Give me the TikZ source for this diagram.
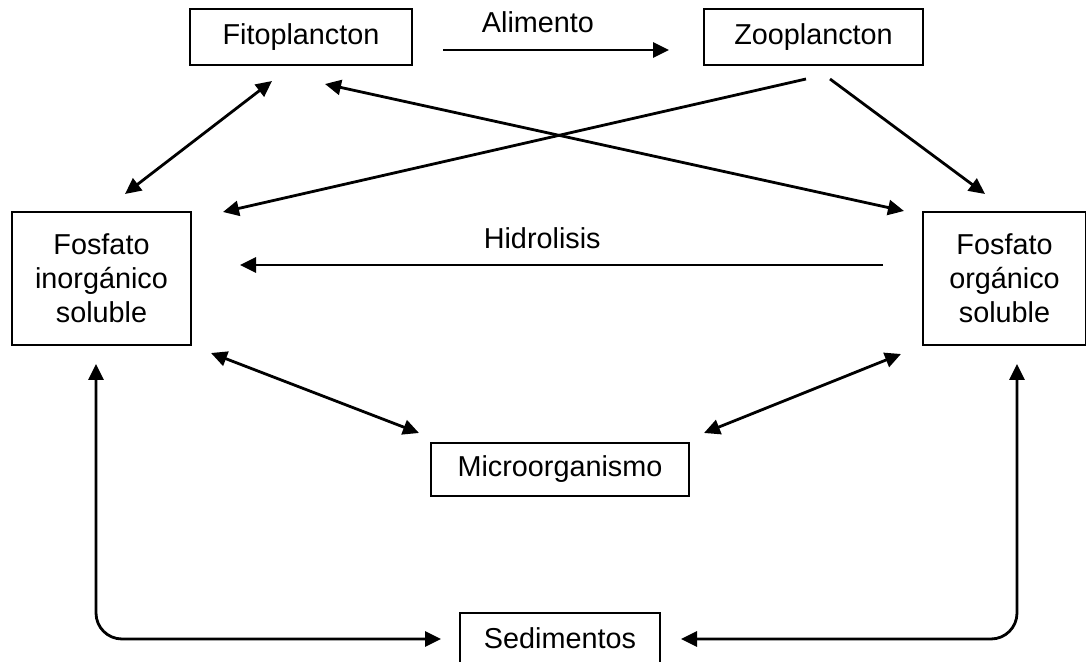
\documentclass[tikz,border=0pt]{standalone}
\usepackage{fontspec}
\setmainfont{Liberation Sans}
\usetikzlibrary{positioning, arrows.meta}

\begin{document}
\begin{tikzpicture}[x=0.5pt, y=-0.5pt,
      box/.style={draw, line width=1pt, inner sep=0pt,
                  font=\fontsize{14.4}{17}\selectfont, align=center},
      lbl/.style={font=\fontsize{14.4}{17}\selectfont},
      arr/.style={-{Triangle[length=8pt, width=7.5pt]}, line width=1.4pt},
      dbl/.style={{Triangle[length=8pt, width=7.5pt]}-{Triangle[length=8pt, width=7.5pt]}, line width=1.4pt}]
    \useasboundingbox (0,0) rectangle (1086,662);
    \node[box, minimum width=111pt, minimum height=28pt] (fito) at (301,37) {Fitoplancton};
    \node[box, minimum width=109.5pt, minimum height=28pt, right=145pt of fito] (zoo) {Zooplancton};
    \node[box, minimum width=89.5pt, minimum height=66.5pt] (inorg) at (101.5,278.5) {Fosfato\\inorgánico\\soluble};
    \node[box, minimum width=81.5pt, minimum height=66.5pt, right=365pt of inorg] (org) {Fosfato\\orgánico\\soluble};
    \node[box, minimum width=129pt, minimum height=26.5pt] (micro) at (560,469.5) {Microorganismo};
    \node[box, minimum width=100pt, minimum height=25pt, below=57.5pt of micro] (sed) {Sedimentos};
    % upper part
    \draw[arr] ([shift={(30,13)}]fito.east) -- node[lbl, pos=0.42, yshift=14pt] {Alimento} ([shift={(-34,13)}]zoo.west);
    \draw[dbl] ([shift={(-29,15)}]fito.south) -- ([shift={(23.5,-17)}]inorg.north);
    \draw[arr] ([shift={(-7.5,13)}]zoo.south) -- ([shift={(31,1)}]inorg.north east);
    \draw[dbl] ([shift={(24,18)}]fito.south) -- ([shift={(-18,0)}]org.north west);
    \draw[arr] ([shift={(16.5,13)}]zoo.south) -- ([shift={(-19.5,-17)}]org.north);
    \draw[arr] ([shift={(-39,-13.5)}]org.west) -- node[lbl, pos=0.53, yshift=13.5pt] {Hidrolisis} ([shift={(48,-13.5)}]inorg.east);
    % lower part
    \draw[dbl] ([shift={(19,7)}]inorg.south east) -- ([shift={(-11,-9)}]micro.north west);
    \draw[dbl] ([shift={(-21,8)}]org.south west) -- ([shift={(14,-9)}]micro.north east);
    \draw[dbl, rounded corners=13pt] ([shift={(-5.5,18)}]inorg.south) |- ([shift={(-18,1)}]sed.west);
    \draw[dbl, rounded corners=13pt] ([shift={(12.5,18)}]org.south) |- ([shift={(20,1)}]sed.east);
  \end{tikzpicture}
\end{document}
